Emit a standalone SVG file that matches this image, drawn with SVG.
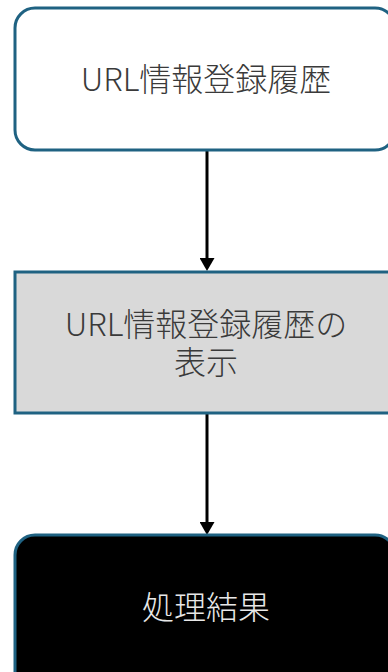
<svg xmlns="http://www.w3.org/2000/svg" width="388" height="672" viewBox="0 0 388 672">
<defs>
<style>
.box{stroke:#1f6282;stroke-width:3}
.t{font-family:"Noto Sans CJK JP","Noto Sans",sans-serif;font-size:32px;text-anchor:middle;font-weight:300}
.edge{stroke:#000;stroke-width:3;fill:none}
</style>
<marker id="ah" markerWidth="13" markerHeight="15" refX="6" refY="7.5" orient="auto" markerUnits="userSpaceOnUse" viewBox="0 0 13 15">
<path d="M0,0 L13,7.5 L0,15 z" fill="#000"/>
</marker>
</defs>
<g id="connectors">
<line class="edge" x1="207" y1="151" x2="207" y2="264" marker-end="url(#ah)"/>
<line class="edge" x1="207" y1="414" x2="207" y2="528" marker-end="url(#ah)"/>
</g>
<g id="node1">
<rect class="box" x="15" y="8" width="380" height="142" rx="20" fill="#ffffff"/>
<text class="t" x="206" y="91" fill="#3a3a3a">URL情報登録履歴</text>
</g>
<g id="node2">
<rect class="box" x="15" y="272" width="380" height="141" fill="#d9d9d9"/>
<text class="t" x="206" y="336" fill="#3a3a3a">URL情報登録履歴の</text>
<text class="t" x="206" y="374" fill="#3a3a3a">表示</text>
</g>
<g id="node3">
<rect class="box" x="15" y="535" width="380" height="160" rx="20" fill="#000000"/>
<text class="t" x="206" y="619" fill="#e8e8e8">処理結果</text>
</g>
</svg>
